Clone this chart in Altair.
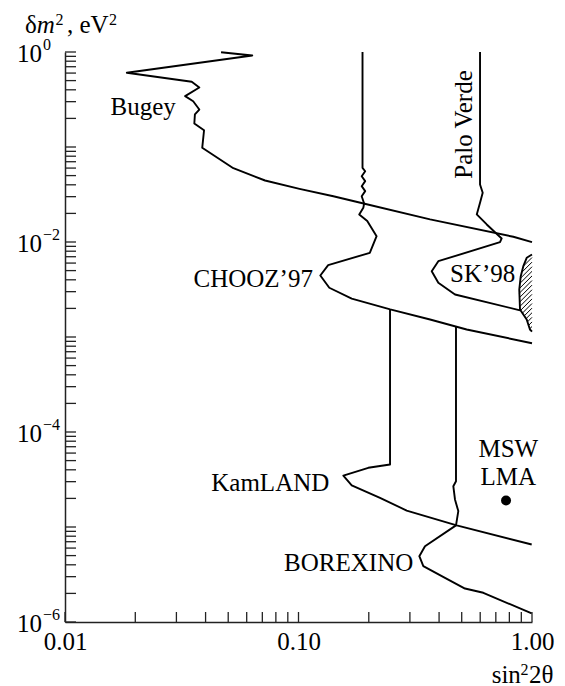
import math
import altair as alt
import pandas as pd

# ---------------- data ----------------
bugey_x = [0.0466, 0.0634, 0.0184, 0.0349, 0.0376, 0.0327, 0.0354, 0.0376, 0.0360, 0.0358,
           0.0394, 0.0387, 0.0526, 0.0719, 0.101, 0.141, 0.190, 0.366, 0.832, 1.0]
bugey_y = [0.995, 0.919, 0.604, 0.486, 0.423, 0.343, 0.303, 0.248, 0.220, 0.177,
           0.150, 0.0981, 0.0598, 0.0444, 0.0363, 0.0303, 0.0254, 0.0173, 0.01135, 0.00995]

chooz_x = [0.188, 0.188, 0.193, 0.1865, 0.193, 0.1865, 0.193, 0.1865, 0.191, 0.1895, 0.182,
           0.197, 0.216, 0.202, 0.134, 0.124, 0.1355, 0.169, 0.247, 0.366, 0.525, 1.0]
chooz_y = [1.0, 0.0604, 0.0556, 0.0493, 0.0437, 0.0387, 0.0343, 0.0303, 0.0254, 0.0229, 0.0195,
           0.0166, 0.0115, 0.00769, 0.0057, 0.00444, 0.0033, 0.00254, 0.00195, 0.00153, 0.0012, 0.00086]

palo_x = [0.599, 0.599, 0.615, 0.599, 0.580, 0.640, 0.7415, 0.7295, 0.397, 0.372, 0.397, 0.468, 0.8885]
palo_y = [1.0, 0.0403, 0.033, 0.0259, 0.0195, 0.0153, 0.0109, 0.00995, 0.00628, 0.00493, 0.00372, 0.0028, 0.00191]

sk_x = [1.0, 0.949, 0.918, 0.895, 0.882, 0.8885, 0.949, 0.980, 1.0]
sk_y = [0.00738, 0.00682, 0.00556, 0.00437, 0.00316, 0.00195, 0.00153, 0.0012, 0.00114]

kam_x = [0.2466, 0.2466, 0.199, 0.1556, 0.169, 0.2234, 0.2906, 0.4759, 0.997]
kam_y = [0.00195, 4.55e-5, 4.2e-5, 3.48e-5, 2.75e-5, 2.03e-5, 1.49e-5, 1.04e-5, 6.54e-6]

boro_x = [0.4726, 0.4726, 0.4603, 0.4679, 0.4835, 0.4726, 0.3481, 0.3292, 0.3424, 0.424, 0.5164, 0.6188, 0.997]
boro_y = [0.00128, 3.03e-5, 2.69e-5, 1.95e-5, 1.47e-5, 1.04e-5, 6.28e-6, 4.93e-6, 3.87e-6, 2.92e-6, 2.25e-6, 2.03e-6, 1.23e-6]

msw_x = [0.774]
msw_y = [1.9e-5]

# labels: text, x, y
labels_right = [("CHOOZ’97", 0.1153, 0.00332), ("KamLAND", 0.1355, 2.42e-5), ("BOREXINO", 0.3101, 3.48e-6)]
labels_center = [("Bugey", 0.0216, 0.215), ("MSW", 0.7916, 5.52e-5), ("LMA", 0.7916, 2.8e-5)]
labels_left = [("SK’98", 0.4455, 0.00375)]
labels_vert = [("Palo Verde", 0.5516, 0.1725)]

x_ticks = [k * 10.0 ** n for n in (-2, -1) for k in range(1, 10)] + [1.0]
y_ticks = [k * 10.0 ** n for n in range(-6, 0) for k in range(1, 10)] + [1.0]
x_label_vals = [0.01, 0.1, 1.0]
y_label_vals = [1.0, 1e-2, 1e-4, 1e-6]
y_label_exp = ["0", "−2", "−4", "−6"]

W, H = 467, 570
FONT = "Liberation Serif"
FS = 25

# ---------------- tables ----------------
rows = []
for name, xs_, ys_ in [("Bugey", bugey_x, bugey_y), ("CHOOZ", chooz_x, chooz_y),
                       ("PaloVerde", palo_x, palo_y), ("SK", sk_x, sk_y),
                       ("KamLAND", kam_x, kam_y), ("BOREXINO", boro_x, boro_y)]:
    for i, (xv, yv) in enumerate(zip(xs_, ys_)):
        rows.append({"curve": name, "i": i, "x": xv, "y": yv})
curves_df = pd.DataFrame(rows)

# hatch pattern inside the SK'98 region: "/" strokes between its left border and x = 1
LX, LY = W / 2.0, H / 6.0          # pixels per decade
bpx = [math.log10(v) * LX for v in sk_x]
bpy = [-math.log10(v) * LY for v in sk_y]
sums = [a + b for a, b in zip(bpx, bpy)]
hatch_rows = []
c = bpy[0] + 3.0
step = 4.6
while c < bpy[-1] - 1.0:
    hit = None
    for j in range(1, len(sums)):
        s0, s1 = sums[j - 1], sums[j]
        if (s0 - c) * (s1 - c) <= 0 and s1 != s0:
            t = (c - s0) / (s1 - s0)
            hit = (bpx[j - 1] + t * (bpx[j] - bpx[j - 1]), bpy[j - 1] + t * (bpy[j] - bpy[j - 1]))
    if hit is not None:
        hatch_rows.append({"x": 10 ** (hit[0] / LX), "y": 10 ** (-hit[1] / LY),
                           "x2": 1.0, "y2": 10 ** (-c / LY)})
    c += step
hatch_df = pd.DataFrame(hatch_rows)

xs = alt.Scale(type="log", domain=[0.01, 1.0])
ys = alt.Scale(type="log", domain=[1e-6, 1.0])

x_axis = alt.Axis(values=x_label_vals, format=".2f", ticks=False, grid=False,
                  domainColor="#222", domainWidth=1.5, labelFlush=False,
                  labelFont=FONT, labelFontSize=FS, labelColor="black", labelPadding=7,
                  title="")
y_axis = alt.Axis(ticks=False, grid=False, labels=False,
                  domainColor="#222", domainWidth=1.5, title="")

X = lambda f="x": alt.X(f + ":Q", scale=xs, axis=x_axis)
Y = lambda f="y": alt.Y(f + ":Q", scale=ys, axis=y_axis)

curves = alt.Chart(curves_df).mark_line(color="black", strokeWidth=1.9, strokeJoin="round").encode(
    x=X(), y=Y(), detail="curve:N", order="i:Q",
)

hatch = alt.Chart(hatch_df).mark_rule(color="black", strokeWidth=1.0).encode(
    x=X(), y=Y(), x2="x2:Q", y2="y2:Q",
)

dot = alt.Chart(pd.DataFrame({"x": msw_x, "y": msw_y})).mark_circle(color="black", size=100, opacity=1).encode(
    x=X(), y=Y(),
)

def text_layer(items, align, angle=0):
    df = pd.DataFrame(items, columns=["t", "x", "y"])
    kw = dict(font=FONT, fontSize=FS, color="black", align=align, baseline="alphabetic")
    if angle:
        kw["angle"] = angle
    return alt.Chart(df).mark_text(**kw).encode(x=X(), y=Y(), text="t:N")

ytick_layer = alt.Chart(pd.DataFrame({"y": y_ticks})).mark_rule(color="#222", strokeWidth=1.3).encode(
    y=Y(), x=alt.value(0), x2=alt.value(11),
)
xtick_layer = alt.Chart(pd.DataFrame({"x": x_ticks})).mark_rule(color="#222", strokeWidth=1.3).encode(
    x=X(), y=alt.value(H), y2=alt.value(H - 10),
)

ylab_df = pd.DataFrame({"y": y_label_vals, "base": ["10"] * 4, "exp": y_label_exp})
ylab_base = alt.Chart(ylab_df).mark_text(font=FONT, fontSize=FS, color="black", align="right",
                                         baseline="alphabetic", dy=9.5).encode(
    y=Y(), x=alt.value(-23), text="base:N")
ylab_exp = alt.Chart(ylab_df).mark_text(font=FONT, fontSize=16, color="black", align="left",
                                        baseline="alphabetic", dy=-2.5).encode(
    y=Y(), x=alt.value(-22), text="exp:N")

# axis titles composed of pieces (pixel offsets from the plot's top-left corner)
title_df = pd.DataFrame([
    {"t": "δ", "px": -40, "py": -19.5, "s": FS},
    {"t": "2", "px": -9.5, "py": -27, "s": 16},
    {"t": ", eV", "px": 2, "py": -19.5, "s": FS},
    {"t": "2", "px": 44, "py": -27, "s": 16},
    {"t": "sin", "px": 426.7, "py": H + 60.5, "s": FS},
    {"t": "2", "px": 455.5, "py": H + 52.5, "s": 16},
    {"t": "2θ", "px": 464, "py": H + 60.5, "s": FS},
])
titles = alt.Chart(title_df).mark_text(font=FONT, color="black", align="left", baseline="alphabetic").encode(
    x=alt.X("px:Q", scale=None), y=alt.Y("py:Q", scale=None), text="t:N",
    size=alt.Size("s:Q", scale=None, legend=None),
)
title_m = alt.Chart(pd.DataFrame({"t": ["m"], "px": [-28.3], "py": [-19.5]})).mark_text(
    font=FONT, fontSize=FS, fontStyle="italic", color="black", align="left", baseline="alphabetic").encode(
    x=alt.X("px:Q", scale=None), y=alt.Y("py:Q", scale=None), text="t:N",
)

chart = alt.layer(
    hatch, curves, dot,
    text_layer(labels_right, "right"), text_layer(labels_center, "center"),
    text_layer(labels_left, "left"), text_layer(labels_vert, "center", 270),
    ytick_layer, xtick_layer, ylab_base, ylab_exp, titles, title_m,
).properties(
    width=W, height=H,
    padding={"left": 65, "top": 52, "right": 33, "bottom": 64},
    autosize=alt.AutoSizeParams(type="none"),
    background="white",
).configure_view(strokeWidth=0)

chart.save("out.html", embed_options={"renderer": "svg", "actions": False})
